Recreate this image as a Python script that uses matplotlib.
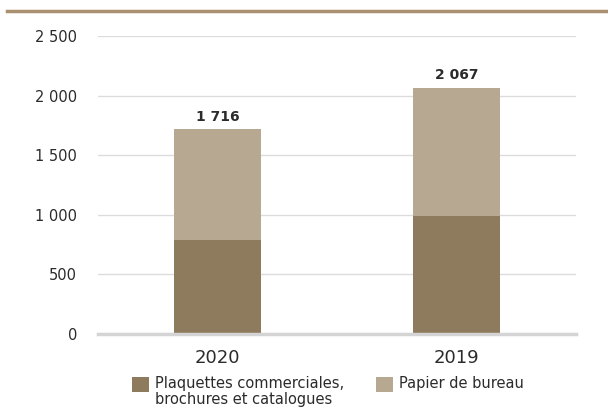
import matplotlib
matplotlib.use("Agg")
import matplotlib.pyplot as plt
from matplotlib.patches import Rectangle
from matplotlib.lines import Line2D
from matplotlib.ticker import FuncFormatter

years = ["2020", "2019"]
plaquettes = [790, 990]
papier = [926, 1077]
totals = [1716, 2067]
legend_labels = ["Plaquettes commerciales,\nbrochures et catalogues", "Papier de bureau"]

dark = "#8e7b5e"
light = "#b7a892"
txt = "#2b2b2b"

plt.rcParams["font.family"] = ["DejaVu Sans"]

def fmt(v, pos=None):
	return "{:,}".format(int(v)).replace(",", " ")

fig = plt.figure(figsize=(6.08, 4.16), dpi=100)
ax = fig.add_axes([98 / 608, 1 - 334 / 416, 478 / 608, 298 / 416])

x = list(range(len(years)))
ax.bar(x, plaquettes, width=0.364, color=dark, zorder=3)
ax.bar(x, papier, width=0.364, bottom=plaquettes, color=light, zorder=3)

for xi, t in zip(x, totals):
	ax.text(xi, t + 45, fmt(t), ha="center", va="bottom", fontsize=10,
		fontweight="bold", color=txt)

ax.set_xlim(-0.5, 1.5)
ax.set_ylim(0, 2500)
ax.set_yticks([0, 500, 1000, 1500, 2000, 2500])
ax.yaxis.set_major_formatter(FuncFormatter(fmt))
ax.set_xticks(x)
ax.set_xticklabels(years)
ax.tick_params(axis="y", length=0, pad=15, labelsize=10.5, labelcolor=txt)
ax.tick_params(axis="x", length=0, pad=11, labelsize=13, labelcolor=txt)
ax.grid(axis="y", color="#dcdcdc", linewidth=1, zorder=0)
for s in ["top", "right", "left"]:
	ax.spines[s].set_visible(False)
ax.spines["bottom"].set_color("#d4d4d4")
ax.spines["bottom"].set_linewidth(2.5)
ax.spines["bottom"].set_zorder(4)

# gold rule across the top
fig.add_artist(Line2D([7 / 608, 1], [1 - 11 / 416, 1 - 11 / 416], color="#a89070", linewidth=2.5))

# legend, built by hand
for lx, col, lab in [(132, dark, legend_labels[0]), (376, light, legend_labels[1])]:
	fig.add_artist(Rectangle((lx / 608, 1 - 392 / 416), 17 / 608, 15 / 416,
		facecolor=col, edgecolor="none", transform=fig.transFigure))
	fig.text((lx + 23) / 608, 1 - 376 / 416, lab, ha="left", va="top",
		fontsize=10.5, color=txt, linespacing=1.05)

fig.savefig("out.png", dpi=100)
